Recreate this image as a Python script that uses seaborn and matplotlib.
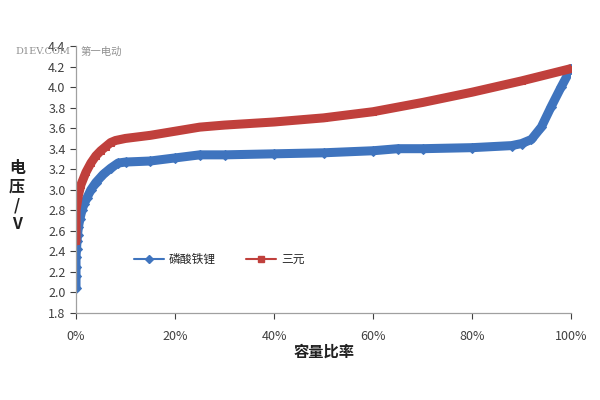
import matplotlib
matplotlib.use("Agg")
import matplotlib.pyplot as plt
from matplotlib.lines import Line2D
from matplotlib.ticker import FuncFormatter, MultipleLocator
import seaborn as sns

sns.set_theme(style="white")
plt.rcParams["font.family"] = ["Noto Sans CJK SC", "DejaVu Sans"]

BLUE = "#3F74BE"
RED = "#C0403C"
GREY = "#404040"

# capacity ratio (%) and voltage (V)
lfp_x = [0, 0, 0, 0, 0.1, 0.2, 0.3, 0.5, 0.8, 1.2, 1.6, 2.2, 3, 4, 5.5, 7, 8.5, 10,
         15, 20, 25, 30, 40, 50, 60, 65, 70, 80, 88, 90, 92, 94, 96, 98, 100]
lfp_v = [2.04, 2.16, 2.25, 2.35, 2.42, 2.50, 2.56, 2.64, 2.72, 2.80, 2.86, 2.92, 3.00,
         3.07, 3.15, 3.21, 3.26, 3.27, 3.28, 3.31, 3.34, 3.34, 3.35, 3.36, 3.38, 3.40,
         3.40, 3.41, 3.43, 3.45, 3.49, 3.61, 3.81, 4.00, 4.18]

ncm_x = [0, 0, 0.5, 1, 2, 3, 4, 5, 6, 7, 8, 10, 15, 20, 25, 30, 40, 50, 60, 70, 80, 90, 100]
ncm_v = [2.50, 2.80, 2.95, 3.05, 3.17, 3.26, 3.33, 3.38, 3.42, 3.46, 3.48, 3.50, 3.53,
         3.57, 3.61, 3.63, 3.66, 3.70, 3.76, 3.85, 3.95, 4.06, 4.18]

x_ticks = [0, 20, 40, 60, 80, 100]

fig = plt.figure(figsize=(6, 4), dpi=100)
ax = fig.add_axes([0.1267, 0.2175, 0.825, 0.6675])

sns.lineplot(x=lfp_x, y=lfp_v, sort=False, estimator=None, color=BLUE, lw=6.5,
             marker="D", markersize=5, markeredgecolor=BLUE, ax=ax)
sns.lineplot(x=ncm_x, y=ncm_v, sort=False, estimator=None, color=RED, lw=6.5,
             marker="s", markersize=5, markeredgecolor=RED, ax=ax)

ax.set_xlim(0, 100)
ax.set_ylim(1.8, 4.4)
ax.set_xticks(x_ticks)
ax.xaxis.set_major_formatter(FuncFormatter(lambda v, p: f"{v:.0f}%"))
ax.yaxis.set_major_locator(MultipleLocator(0.2))
ax.yaxis.set_major_formatter(FuncFormatter(lambda v, p: f"{v:.1f}"))
ax.tick_params(axis="both", labelsize=9, colors=GREY, length=4, width=0.8,
               direction="out", bottom=True, left=True)
ax.tick_params(axis="x", pad=8)
for s in ["top", "right"]:
    ax.spines[s].set_visible(False)
for s in ["left", "bottom"]:
    ax.spines[s].set_color("#A0A0A0")
    ax.spines[s].set_linewidth(0.9)
ax.set_xlabel("")
ax.set_ylabel("")

handles = [
    Line2D([], [], color=BLUE, lw=1.5, marker="D", markersize=4),
    Line2D([], [], color=RED, lw=1.5, marker="s", markersize=5),
]
ax.legend(handles, ["磷酸铁锂", "三元"], ncol=2, frameon=False, fontsize=8.5,
          loc="center left", bbox_to_anchor=(0.095, 0.2), handlelength=2.6,
          columnspacing=2.5, handletextpad=0.4)

fig.text(0.54, 0.12, "容量比率", ha="center", va="center", fontsize=11,
         fontweight="bold", color="#202020")
fig.text(0.028, 0.51, "电\n压\n/\nV", ha="center", va="center", fontsize=11.5,
         fontweight="bold", color="#202020", linespacing=1.2)
fig.text(0.025, 0.87, "D1EV.COM", fontsize=7, color="#909090", family="DejaVu Serif",
         va="center")
fig.text(0.135, 0.87, "第一电动", fontsize=7.5, color="#909090", va="center")

fig.savefig("out.png", dpi=100)
